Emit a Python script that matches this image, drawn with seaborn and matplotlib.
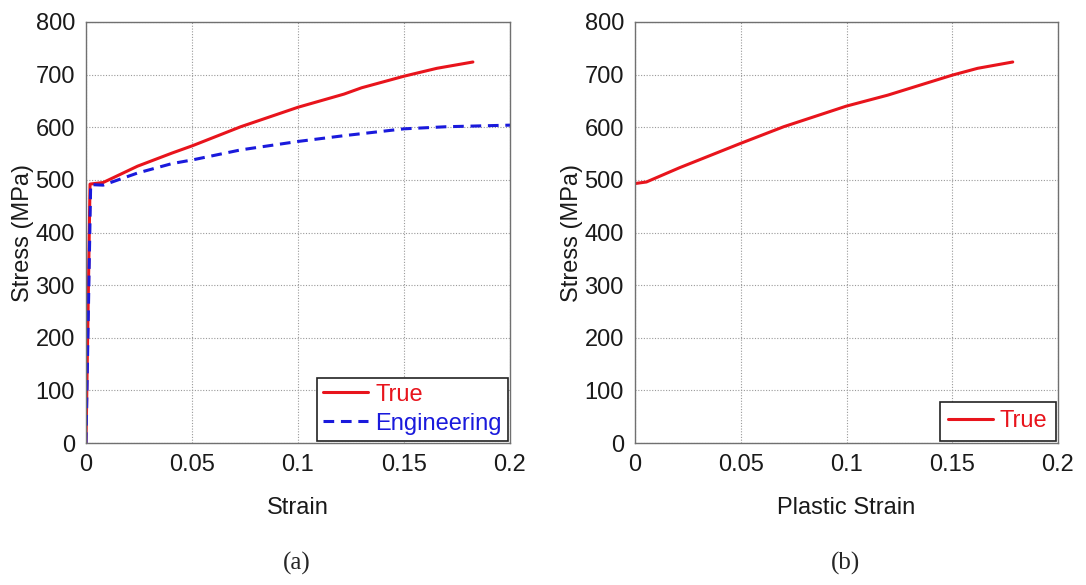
"""
True vs engineering stress-strain curves, (a) total strain and (b) plastic strain
"""

import pandas as pd
import numpy as np
import matplotlib
matplotlib.use("Agg")
import matplotlib.pyplot as plt
import seaborn as sns

# ============================================================
# DATA
# ============================================================
true_strain = [0.0, 0.0019, 0.0081, 0.0243, 0.0406, 0.0503, 0.073, 0.1,
               0.1217, 0.13, 0.15, 0.1655, 0.1825]
true_stress = [0, 492, 495, 526, 551, 565, 601, 638, 663, 675, 697, 712, 724]

eng_strain = [0.0, 0.0022, 0.0081, 0.0243, 0.0406, 0.0503, 0.073, 0.1,
              0.1217, 0.15, 0.17, 0.2]
eng_stress = [0, 491, 490, 513, 531, 538, 557, 573, 584, 597, 601, 604]

plastic_strain = [0.0, 0.0054, 0.021, 0.0497, 0.0703, 0.0998, 0.1195, 0.15,
                  0.162, 0.1786]
plastic_stress = [493, 496, 523, 569, 601, 640, 661, 699, 712, 724]

x_ticks = [0, 0.05, 0.1, 0.15, 0.2]
x_tick_labels = ["0", "0.05", "0.1", "0.15", "0.2"]
y_ticks = [0, 100, 200, 300, 400, 500, 600, 700, 800]

curves_a = pd.concat([
    pd.DataFrame({"strain": true_strain, "stress": true_stress, "curve": "True"}),
    pd.DataFrame({"strain": eng_strain, "stress": eng_stress, "curve": "Engineering"}),
])
curves_b = pd.DataFrame({"strain": plastic_strain, "stress": plastic_stress,
                         "curve": "True"})

# ============================================================
# STYLE
# ============================================================
sns.set_style("white")
plt.rcParams['font.family'] = ['Liberation Sans', 'DejaVu Sans']
plt.rcParams['font.size'] = 17

palette = {"True": "#e8141c", "Engineering": "#1a1adc"}
dashes = {"True": "", "Engineering": (3.5, 2.2)}

fig = plt.figure(figsize=(10.86, 5.85), dpi=100)
ax_a = fig.add_axes([86 / 1086, 142 / 585, 424 / 1086, 421 / 585])
ax_b = fig.add_axes([635 / 1086, 142 / 585, 423 / 1086, 421 / 585])


def style_axes(ax, xlabel):
    ax.set_xlim(0, 0.2)
    ax.set_ylim(0, 800)
    ax.set_xticks(x_ticks)
    ax.set_xticklabels(x_tick_labels)
    ax.set_yticks(y_ticks)
    ax.grid(True, linestyle=(0, (1, 1.5)), color="#9a9a9a", linewidth=0.8)
    ax.set_axisbelow(True)
    for s in ax.spines.values():
        s.set_color("#707070")
        s.set_linewidth(1.0)
    ax.tick_params(direction="in", length=4, width=0.8, color="#707070",
                   labelsize=17, labelcolor="#1a1a1a", pad=8)
    ax.set_xlabel(xlabel, fontsize=17, color="#1a1a1a", labelpad=15)
    ax.set_ylabel("Stress (MPa)", fontsize=17, color="#1a1a1a", labelpad=1)


# (a) true and engineering curves
sns.lineplot(data=curves_a, x="strain", y="stress", hue="curve", style="curve",
             palette=palette, dashes=dashes, sort=False, estimator=None,
             linewidth=2.2, ax=ax_a)
style_axes(ax_a, "Strain")
leg = ax_a.legend(loc="lower right", borderaxespad=0.1, fancybox=False,
                  edgecolor="#222222", fontsize=17, labelcolor="linecolor",
                  handlelength=1.9, handletextpad=0.3, borderpad=0.25,
                  labelspacing=0.3, framealpha=1)
leg.get_frame().set_linewidth(1.2)

# (b) true curve vs plastic strain
sns.lineplot(data=curves_b, x="strain", y="stress", hue="curve",
             palette=palette, sort=False, estimator=None, linewidth=2.2, ax=ax_b)
style_axes(ax_b, "Plastic Strain")
leg = ax_b.legend(loc="lower right", borderaxespad=0.1, fancybox=False,
                  edgecolor="#222222", fontsize=17, labelcolor="linecolor",
                  handlelength=1.9, handletextpad=0.3, borderpad=0.35,
                  framealpha=1)
leg.get_frame().set_linewidth(1.2)

fig.text(297 / 1086, 1 - 563 / 585, "(a)", ha="center", va="center",
         fontsize=18, family="Liberation Serif")
fig.text(845 / 1086, 1 - 563 / 585, "(b)", ha="center", va="center",
         fontsize=18, family="Liberation Serif")

fig.savefig("out.png", dpi=100)
